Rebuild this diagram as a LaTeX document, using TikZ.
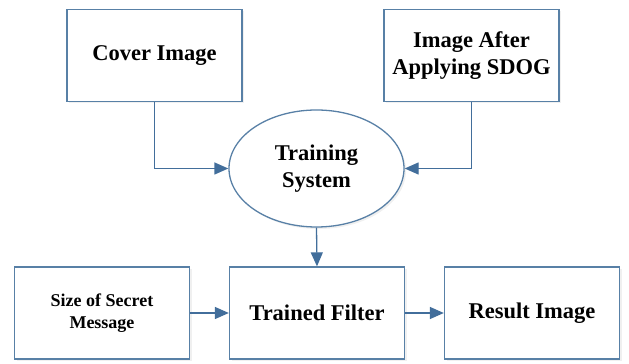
\documentclass[tikz,border=0pt]{standalone}
\usepackage{fontspec}
\setmainfont{Liberation Serif}
\usepackage{tikz}
\usetikzlibrary{arrows.meta,shapes.geometric,shadows}
\definecolor{boxblue}{RGB}{88,128,166}
\definecolor{arrblue}{RGB}{66,110,155}

\begin{document}
\begin{tikzpicture}[
            x=1pt,y=1pt,
            stepbox/.style={draw=boxblue,line width=1.3pt,fill=white,
                minimum width=175pt,minimum height=92pt,inner sep=0pt,
                align=center,font=\fontsize{22.5}{27}\selectfont\bfseries,
                drop shadow={shadow xshift=2pt,shadow yshift=-2pt,opacity=0.12}},
            hub/.style={ellipse,draw=boxblue,line width=1.3pt,fill=white,
                minimum width=175pt,minimum height=117pt,inner sep=0pt,
                align=center,font=\fontsize{22.5}{27}\selectfont\bfseries,
                drop shadow={shadow xshift=2pt,shadow yshift=-2pt,opacity=0.12}},
            flow/.style={draw=arrblue,line width=1.3pt,-{Triangle[length=14pt,width=12pt]}}
        ]
            \useasboundingbox (0,0) rectangle (629,364);

            \node[stepbox] (cover) at (154.5,308.5) {Cover Image};
            \node[stepbox] (after) at (471.5,308.5) {Image After\\Applying SDOG};
            \node[hub] (train) at (316.5,195.5) {Training\\System};

            \node[stepbox,font=\fontsize{18}{21.5}\selectfont\bfseries] (size) at (102,51) {Size of Secret\\Message};
            \node[stepbox] (filter) at (317,51) {Trained Filter};
            \node[stepbox] (result) at (532,51) {Result Image};

            \draw[flow] (cover.south) |- (train.west);
            \draw[flow] (after.south) |- (train.east);
            \draw[flow] (train.south) -- (filter.north);
            \draw[flow] (size.east) -- (filter.west);
            \draw[flow] (filter.east) -- (result.west);
        \end{tikzpicture}
\end{document}
